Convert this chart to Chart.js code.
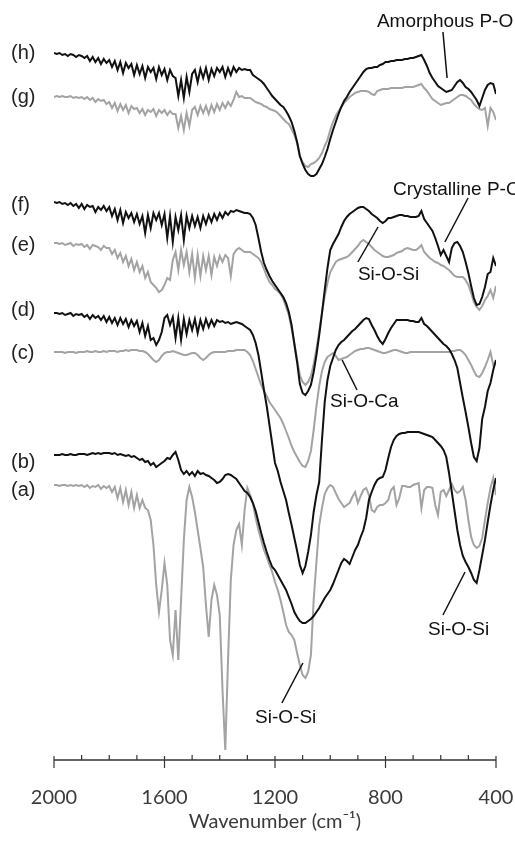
<!DOCTYPE html>
<html>
<head>
<meta charset="utf-8">
<script src="https://cdn.jsdelivr.net/npm/chart.js@4/dist/chart.umd.min.js"></script>
<style>
  html, body { margin: 0; padding: 0; background: #fff; }
  #ftir { display: block; }
</style>
</head>
<body>
<canvas id="ftir" width="515" height="851"></canvas>
<script>
// wavenumber grid (cm-1), 10 cm-1 steps
const wavenumber = [
  2000,1990,1980,1970,1960,1950,1940,1930,1920,1910,
  1900,1890,1880,1870,1860,1850,1840,1830,1820,1810,
  1800,1790,1780,1770,1760,1750,1740,1730,1720,1710,
  1700,1690,1680,1670,1660,1650,1640,1630,1620,1610,
  1600,1590,1580,1570,1560,1550,1540,1530,1520,1510,
  1500,1490,1480,1470,1460,1450,1440,1430,1420,1410,
  1400,1390,1380,1370,1360,1350,1340,1330,1320,1310,
  1300,1290,1280,1270,1260,1250,1240,1230,1220,1210,
  1200,1190,1180,1170,1160,1150,1140,1130,1120,1110,
  1100,1090,1080,1070,1060,1050,1040,1030,1020,1010,
  1000,990,980,970,960,950,940,930,920,910,
  900,890,880,870,860,850,840,830,820,810,
  800,790,780,770,760,750,740,730,720,710,
  700,690,680,670,660,650,640,630,620,610,
  600,590,580,570,560,550,540,530,520,510,
  500,490,480,470,460,450,440,430,420,410,
  400
];

// stacked spectra, offset absorption depth (a.u., larger = lower on the page)
const traceH = [
  53,54,53,55,54,56,54,55,57,55,
  56,58,56,61,57,62,58,64,59,63,
  60,67,61,70,62,73,63,68,64,75,
  65,74,66,78,67,72,68,79,67,75,
  69,80,70,76,78,96,80,98,77,92,
  74,70,82,69,78,68,80,69,76,68,
  72,67,77,68,75,67,72,68,70,69,
  70,70,75,77,79,81,84,88,92,96,
  99,102,105,107,111,116,122,131,142,156,
  164,170,174,176,176,174,169,164,157,149,
  139,130,122,114,107,101,97,92,88,84,
  80,76,72,69,68,68,67,67,65,64,
  62,62,61,61,60,60,60,59,59,58,
  58,57,56,55,60,66,73,78,82,86,
  88,90,92,91,90,86,82,80,83,87,
  89,92,96,100,106,98,90,85,83,84,
  94
];
const traceG = [
  97,96,97,96,97,97,96,98,97,98,
  97,99,97,100,98,102,99,101,100,104,
  102,108,103,111,104,110,105,113,106,109,
  108,113,109,115,110,112,109,116,110,113,
  110,115,111,114,114,128,116,130,113,126,
  110,107,115,106,113,106,114,105,112,104,
  110,103,108,102,106,100,92,97,96,98,
  98,98,100,102,103,104,106,107,109,110,
  111,113,116,119,122,124,129,135,143,157,
  162,166,167,164,163,161,158,153,146,140,
  130,122,116,111,107,103,100,97,95,93,
  92,91,91,91,92,94,95,91,90,89,
  89,89,88,88,88,88,88,87,87,87,
  87,86,85,84,88,91,95,99,101,103,
  105,104,103,103,101,99,97,95,95,96,
  98,100,104,107,109,110,108,126,108,112,
  120
];
const traceF = [
  202,203,202,204,203,205,203,206,204,208,
  204,209,205,207,206,212,207,210,206,211,
  207,216,209,220,210,223,212,218,213,222,
  214,224,216,233,215,228,213,220,213,225,
  214,238,216,242,217,230,215,240,216,228,
  216,226,217,228,216,224,215,222,214,220,
  213,218,212,215,211,212,210,211,212,213,
  213,214,218,225,238,252,263,270,276,281,
  285,289,293,297,303,312,325,344,362,384,
  393,395,391,385,372,355,335,313,290,268,
  250,244,239,234,227,221,217,214,212,210,
  208,207,207,209,211,214,216,218,221,223,
  221,218,218,217,216,215,215,216,216,217,
  217,217,216,211,219,223,227,231,238,246,
  255,250,256,262,248,243,242,246,252,262,
  273,286,298,305,304,297,287,274,272,258,
  266
];
const traceE = [
  243,243,244,243,245,244,243,246,244,245,
  244,247,245,249,245,246,247,250,246,248,
  248,254,250,258,253,262,256,266,259,270,
  262,272,266,278,272,282,285,288,292,290,
  285,278,280,260,252,270,250,265,252,272,
  254,278,255,276,256,270,256,275,257,266,
  256,262,255,258,276,254,250,248,250,252,
  252,252,254,256,258,262,269,276,282,285,
  289,291,294,299,307,315,328,343,360,375,
  382,385,382,376,364,349,332,313,296,283,
  272,267,262,260,259,258,257,255,252,249,
  246,242,240,242,244,247,250,252,254,256,
  257,257,256,255,253,252,251,249,248,249,
  250,250,248,245,252,255,258,260,262,263,
  265,266,268,270,273,276,277,277,277,280,
  285,293,302,307,310,306,300,296,290,298,
  286
];
const traceD = [
  313,313,314,313,315,314,313,316,314,315,
  314,317,315,319,315,318,316,320,316,322,
  317,323,318,325,318,324,319,327,320,326,
  321,332,323,336,326,340,338,345,340,332,
  318,315,325,317,338,318,340,319,334,320,
  330,319,333,320,329,319,327,320,326,320,
  322,321,323,322,324,323,322,323,324,326,
  328,330,335,343,355,372,390,406,425,444,
  463,471,482,491,500,513,525,538,551,565,
  573,566,552,535,512,495,482,440,402,380,
  366,358,350,345,342,340,337,334,331,329,
  326,323,320,318,319,325,330,336,341,344,
  339,333,328,324,320,320,320,320,320,321,
  321,322,322,318,324,326,329,332,335,338,
  341,344,346,349,354,360,368,383,398,412,
  427,443,457,461,448,419,407,391,383,370,
  360
];
const traceC = [
  352,352,352,352,353,352,352,352,353,352,
  352,352,351,352,352,351,352,352,351,352,
  351,351,351,352,351,351,350,351,350,350,
  350,351,351,352,354,357,360,362,360,356,
  353,352,352,351,352,353,354,355,355,354,
  353,353,355,358,360,358,355,353,352,352,
  352,352,352,351,351,351,350,350,350,350,
  352,355,361,369,377,385,391,396,402,406,
  410,414,418,424,431,438,446,452,457,462,
  466,467,461,451,430,406,386,371,362,357,
  355,353,356,360,359,358,357,355,353,351,
  350,349,349,348,348,349,350,351,352,353,
  353,352,351,350,350,351,352,353,353,352,
  352,352,352,352,352,352,352,352,352,352,
  352,352,352,352,351,351,350,350,352,355,
  360,365,371,376,377,373,367,360,352,365,
  362
];
const traceB = [
  455,455,455,454,455,455,454,455,455,454,
  454,454,455,454,453,454,453,454,453,453,
  453,454,453,455,454,455,456,455,457,456,
  458,460,459,462,461,465,463,467,465,463,
  461,458,459,455,452,460,470,474,471,475,
  472,476,471,474,473,475,476,478,480,483,
  482,479,475,474,475,477,479,483,487,491,
  493,497,503,511,522,533,543,552,560,567,
  570,575,580,585,590,597,604,612,617,621,
  623,623,621,619,616,612,608,603,598,594,
  590,584,577,570,563,559,561,564,557,550,
  545,537,530,518,500,492,485,480,478,477,
  470,458,447,440,436,434,433,433,432,432,
  432,432,432,433,434,435,436,437,440,443,
  446,450,457,473,492,511,530,545,556,562,
  567,573,580,583,570,555,540,522,505,490,
  478
];
const traceA = [
  485,485,486,485,485,486,485,486,485,486,
  485,487,485,488,486,487,485,489,486,488,
  486,492,487,498,488,502,490,505,492,508,
  495,508,500,508,510,520,545,585,612,590,
  563,585,640,655,610,660,600,540,500,487,
  497,512,530,548,567,605,637,600,585,595,
  615,690,750,660,580,545,530,524,545,510,
  488,495,503,518,530,540,550,557,565,572,
  582,590,600,612,625,632,635,640,653,665,
  675,678,672,655,600,562,525,508,494,488,
  485,487,493,499,503,507,505,503,497,492,
  503,496,490,488,495,510,512,507,505,505,
  503,500,490,487,505,498,486,486,487,487,
  485,484,483,508,490,487,487,488,505,515,
  492,490,496,490,484,490,493,491,487,500,
  520,537,545,548,546,538,520,503,488,478,
  495
];

const traceNames = ['(h)', '(f)', '(d)', '(b)', '(g)', '(e)', '(c)', '(a)'];
// depth at which each trace label sits (same order as traceNames)
const traceLabelDepth = [53, 205, 310, 462, 97, 245, 353, 490];
const majorTicks = [2000, 1600, 1200, 800, 400];
const minorTicks = [1900, 1800, 1700, 1500, 1400, 1300, 1100, 1000, 900, 700, 600, 500];

// band labels: text anchor [wavenumber, depth] and leader line [w1, d1, w2, d2]
const bandNotes = [
  { text: 'Amorphous P-O', at: [831, 22], line: [592, 32, 577, 78] },
  { text: 'Crystalline P-O', at: [773, 190], line: [501, 198, 585, 242] },
  { text: 'Si-O-Si', at: [900, 275], line: [827, 227, 900, 262] },
  { text: 'Si-O-Ca', at: [1001, 402], line: [957, 360, 903, 390] },
  { text: 'Si-O-Si', at: [1272, 718], line: [1099, 663, 1175, 703] },
  { text: 'Si-O-Si', at: [646, 630], line: [512, 572, 592, 615] }
];

const BLACK = '#111111';
const GREY = '#a3a3a3';

function toPoints(values) {
  return values.map((v, i) => ({ x: wavenumber[i], y: v }));
}

const series = [traceH, traceF, traceD, traceB, traceG, traceE, traceC, traceA];
const datasets = series.map((values, i) => ({
  label: traceNames[i],
  data: toPoints(values),
  borderColor: i < 4 ? BLACK : GREY,
  borderWidth: 2,
  pointRadius: 0,
  tension: 0,
  fill: false
}));

const axisAndNotes = {
  id: 'axisAndNotes',
  afterDraw(chart) {
    const { ctx, chartArea, scales: { x, y } } = chart;
    const base = chartArea.bottom;
    ctx.save();

    // axis line with major / minor ticks
    ctx.strokeStyle = '#333';
    ctx.lineWidth = 1.5;
    ctx.beginPath();
    ctx.moveTo(x.getPixelForValue(2000), base);
    ctx.lineTo(x.getPixelForValue(400), base);
    ctx.stroke();
    ctx.lineWidth = 1.2;
    majorTicks.forEach(t => {
      const px = x.getPixelForValue(t);
      ctx.beginPath(); ctx.moveTo(px, base - 4); ctx.lineTo(px, base + 8); ctx.stroke();
    });
    minorTicks.forEach(t => {
      const px = x.getPixelForValue(t);
      ctx.beginPath(); ctx.moveTo(px, base - 5); ctx.lineTo(px, base); ctx.stroke();
    });

    // trace labels at the left
    ctx.fillStyle = '#222';
    ctx.font = '20px "Liberation Sans", Arial, sans-serif';
    ctx.textAlign = 'left';
    ctx.textBaseline = 'middle';
    traceNames.forEach((name, i) => {
      ctx.fillText(name, chartArea.left - 43, y.getPixelForValue(traceLabelDepth[i]));
    });

    // band assignments
    ctx.font = '19px "Liberation Sans", Arial, sans-serif';
    ctx.fillStyle = '#111';
    ctx.strokeStyle = '#111';
    ctx.lineWidth = 1.5;
    bandNotes.forEach(n => {
      ctx.fillText(n.text, x.getPixelForValue(n.at[0]), y.getPixelForValue(n.at[1]));
      ctx.beginPath();
      ctx.moveTo(x.getPixelForValue(n.line[0]), y.getPixelForValue(n.line[1]));
      ctx.lineTo(x.getPixelForValue(n.line[2]), y.getPixelForValue(n.line[3]));
      ctx.stroke();
    });
    ctx.restore();
  }
};

new Chart(document.getElementById('ftir').getContext('2d'), {
  type: 'line',
  data: { datasets },
  options: {
    responsive: false,
    animation: false,
    events: [],
    layout: { padding: { left: 54, right: 19, top: 0, bottom: 0 } },
    plugins: { legend: { display: false }, tooltip: { enabled: false } },
    scales: {
      x: {
        type: 'linear',
        reverse: true,
        min: 400,
        max: 2000,
        afterFit(scale) {
          scale.height = 91;
          scale.paddingLeft = 0;
          scale.paddingRight = 0;
        },
        grid: { display: false, drawTicks: false },
        border: { display: false },
        ticks: {
          stepSize: 400,
          padding: 26,
          color: '#3a3a3a',
          callback: v => String(v),
          font: { family: 'Lato, "Open Sans", sans-serif', size: 20 }
        },
        title: {
          display: true,
          text: 'Wavenumber (cm\u207B\u00B9)',
          color: '#3a3a3a',
          padding: { top: 0, bottom: 17 },
          font: { family: 'Lato, "Open Sans", sans-serif', size: 20 }
        }
      },
      y: {
        display: false,
        reverse: true,
        min: 0,
        max: 760
      }
    }
  },
  plugins: [axisAndNotes]
});
</script>
</body>
</html>
